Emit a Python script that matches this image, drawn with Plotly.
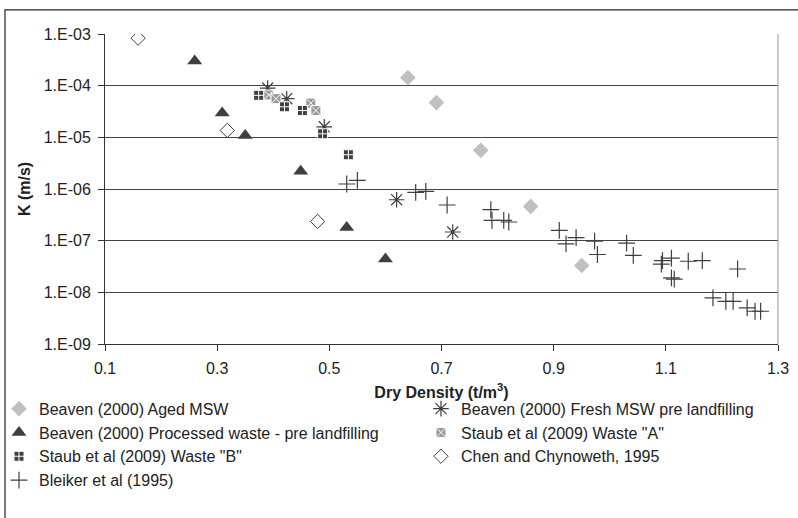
import plotly.graph_objects as go

# ---------------- data ----------------
aged_x = [0.640, 0.691, 0.770, 0.859, 0.950]
aged_k = [1.43e-4, 4.7e-5, 5.6e-6, 4.6e-7, 3.3e-8]

fresh_x = [0.390, 0.424, 0.491, 0.620, 0.720]
fresh_k = [9.0e-5, 5.6e-5, 1.6e-5, 6.2e-7, 1.47e-7]

proc_x = [0.260, 0.309, 0.350, 0.449, 0.531, 0.600]
proc_k = [3.0e-4, 2.96e-5, 1.09e-5, 2.2e-6, 1.8e-7, 4.4e-8]

staubA_x = [0.392, 0.405, 0.467, 0.476]
staubA_k = [6.6e-5, 5.6e-5, 4.6e-5, 3.3e-5]

staubB_x = [0.374, 0.420, 0.452, 0.488, 0.534]
staubB_k = [6.5e-5, 3.9e-5, 3.3e-5, 1.17e-5, 4.6e-6]

chen_x = [0.159, 0.318, 0.479]
chen_k = [8.3e-4, 1.36e-5, 2.36e-7]

bleiker_x = [0.531, 0.550, 0.654, 0.672, 0.710, 0.788, 0.790, 0.811, 0.820,
             0.910, 0.922, 0.940, 0.973, 0.978, 1.030, 1.042, 1.092, 1.094,
             1.110, 1.110, 1.115, 1.140, 1.165, 1.228, 1.184, 1.207, 1.220,
             1.245, 1.259, 1.269]
bleiker_k = [1.25e-6, 1.47e-6, 8.6e-7, 9.0e-7, 4.9e-7, 4.0e-7, 2.47e-7, 2.47e-7, 2.3e-7,
             1.58e-7, 8.7e-8, 1.15e-7, 9.8e-8, 5.4e-8, 9.0e-8, 5.2e-8, 3.5e-8, 4.1e-8,
             4.6e-8, 1.9e-8, 1.8e-8, 4.0e-8, 4.1e-8, 2.83e-8, 7.8e-9, 6.7e-9, 6.7e-9,
             5.0e-9, 4.3e-9, 4.3e-9]

y_tickvals = [1e-9, 1e-8, 1e-7, 1e-6, 1e-5, 1e-4, 1e-3]
y_ticktext = ["1.E-09", "1.E-08", "1.E-07", "1.E-06", "1.E-05", "1.E-04", "1.E-03"]
x_tickvals = [0.1, 0.3, 0.5, 0.7, 0.9, 1.1, 1.3]
x_ticktext = ["0.1", "0.3", "0.5", "0.7", "0.9", "1.1", "1.3"]

FONT = "Liberation Sans, Arial, sans-serif"
DARK = "#3f3f3f"
TXT = "#222222"

fig = go.Figure()

fig.add_trace(go.Scatter(x=aged_x, y=aged_k, mode="markers", legend="legend",
                         name="Beaven (2000) Aged MSW",
                         marker=dict(symbol="diamond", size=12, color="#c0c0c0")))
fig.add_trace(go.Scatter(x=fresh_x, y=fresh_k, mode="markers", legend="legend2",
                         name="Beaven (2000) Fresh MSW pre landfilling",
                         marker=dict(symbol="asterisk-open", size=13, color=DARK,
                                     line=dict(color=DARK, width=1.2))))
fig.add_trace(go.Scatter(x=proc_x, y=proc_k, mode="markers", legend="legend",
                         name="Beaven (2000) Processed waste - pre landfilling",
                         marker=dict(symbol="triangle-up", size=13, color=DARK)))
fig.add_trace(go.Scatter(x=staubA_x, y=staubA_k, mode="markers", legend="legend2",
                         name='Staub et al (2009) Waste "A"',
                         marker=dict(symbol="square-x", size=10, color="#999999",
                                     line=dict(color="white", width=1))))
fig.add_trace(go.Scatter(x=staubB_x, y=staubB_k, mode="markers", legend="legend",
                         name='Staub et al (2009) Waste "B"',
                         marker=dict(symbol="square-cross", size=10, color=DARK,
                                     line=dict(color="white", width=1))))
fig.add_trace(go.Scatter(x=chen_x, y=chen_k, mode="markers", legend="legend2",
                         name="Chen and Chynoweth, 1995",
                         marker=dict(symbol="diamond-open", size=11, color=DARK,
                                     line=dict(color=DARK, width=1))))
fig.add_trace(go.Scatter(x=bleiker_x, y=bleiker_k, mode="markers", legend="legend",
                         name="Bleiker et al (1995)",
                         marker=dict(symbol="cross-thin-open", size=12, color=DARK,
                                     line=dict(color=DARK, width=1.2))))

legend_common = dict(orientation="v", yanchor="top", xanchor="left",
                     font=dict(family=FONT, size=16, color=TXT),
                     bgcolor="rgba(0,0,0,0)", borderwidth=0, traceorder="normal")

fig.update_layout(
    width=798, height=518,
    margin=dict(l=105, r=20, t=34, b=174, autoexpand=False),
    paper_bgcolor="white", plot_bgcolor="white",
    font=dict(family=FONT, size=16, color=TXT),
    showlegend=True,
    legend=dict(x=-0.1575, y=-0.154, **legend_common),
    legend2=dict(x=0.4695, y=-0.154, **legend_common),
    xaxis=dict(range=[0.1, 1.3], tickvals=x_tickvals, ticktext=x_ticktext,
               showgrid=False, zeroline=False, showline=True, linecolor="#333333",
               linewidth=1, ticks="outside", ticklen=6, tickcolor="#333333",
               ticklabelstandoff=4,
               title=dict(text="<b>Dry Density (t/m<sup>3</sup>)</b>", standoff=10,
                          font=dict(family=FONT, size=16, color=TXT))),
    yaxis=dict(type="log", range=[-9, -3], tickvals=y_tickvals, ticktext=y_ticktext,
               showgrid=True, gridcolor="#444444", gridwidth=1, zeroline=False,
               showline=True, linecolor="#333333", linewidth=1,
               ticks="outside", ticklen=6, tickcolor="#333333", ticklabelstandoff=4,
               title=dict(text="<b>K (m/s)</b>", standoff=9,
                          font=dict(family=FONT, size=16, color=TXT))),
    shapes=[
        dict(type="rect", xref="paper", yref="paper",
             x0=-0.1486, x1=1.04, y0=-0.6, y1=1.078,
             line=dict(color="#222222", width=1.2), fillcolor="rgba(0,0,0,0)", layer="below"),
        dict(type="line", xref="paper", yref="paper", x0=1, x1=1, y0=0, y1=1,
             line=dict(color="#999999", width=1)),
    ],
)

fig.write_html("out.html")
